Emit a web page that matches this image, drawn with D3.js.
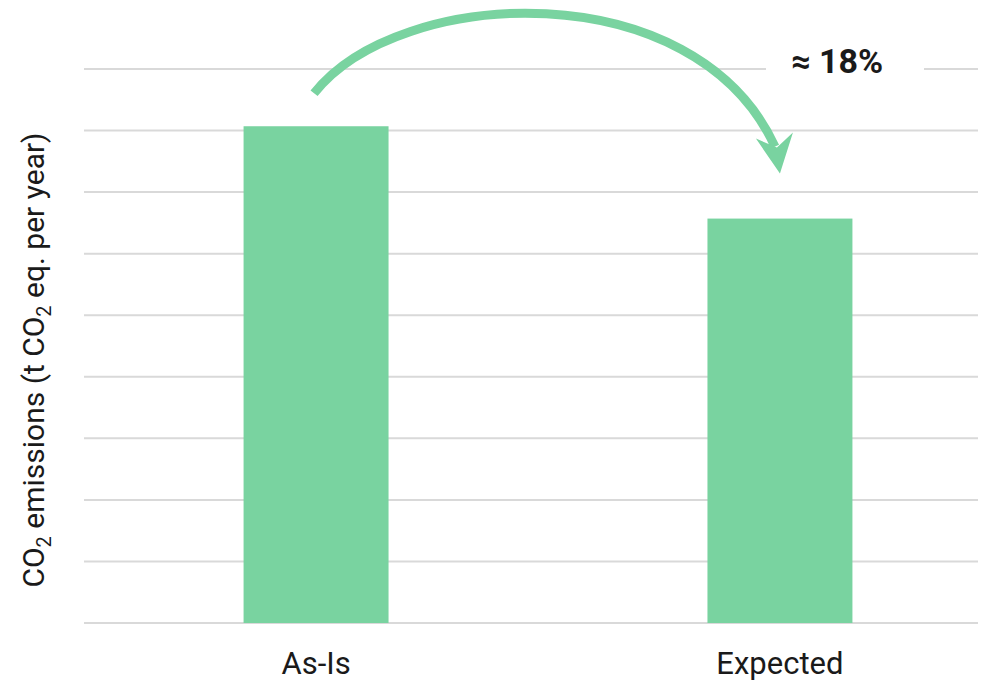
<!DOCTYPE html>
<meta charset="utf-8">
<script src="https://d3js.org/d3.v7.min.js"></script>
<style>
  body { margin: 0; background: #fff; }
  text { font-family: Roboto, "Noto Sans", sans-serif; fill: #1a1a1a; }
</style>
<div id="my_dataviz"></div>
<script>

// data
var categories = ["As-Is", "Expected"];
var values = [8.07, 6.57];
var gridTicks = [0, 1, 2, 3, 4, 5, 6, 7, 8, 9];
var changeLabel = "≈ 18%";

var width = 997, height = 682;
var margin = {left: 84, right: 978, top: 69, bottom: 623};
var barColor = "#79d3a0";

var svg = d3.select("#my_dataviz")
  .append("svg")
    .attr("width", width)
    .attr("height", height);

var x = d3.scaleBand()
  .domain(categories)
  .range([margin.left, 1012])
  .paddingInner(0.6875)
  .paddingOuter(0.344);

var y = d3.scaleLinear()
  .domain([0, 9])
  .range([margin.bottom, margin.top]);

// horizontal grid lines
svg.append("g")
  .selectAll("line")
  .data(gridTicks)
  .join("line")
    .attr("x1", margin.left)
    .attr("x2", margin.right)
    .attr("y1", function(d) { return y(d); })
    .attr("y2", function(d) { return y(d); })
    .attr("stroke", "#d9d9d9")
    .attr("stroke-width", 2);

// bars
svg.append("g")
  .selectAll("rect")
  .data(values)
  .join("rect")
    .attr("x", function(d, i) { return x(categories[i]); })
    .attr("y", function(d) { return y(d); })
    .attr("width", x.bandwidth())
    .attr("height", function(d) { return y(0) - y(d); })
    .attr("fill", barColor);

// category labels
svg.append("g")
  .selectAll("text")
  .data(categories)
  .join("text")
    .attr("x", function(d) { return x(d) + x.bandwidth() / 2; })
    .attr("y", 674)
    .attr("text-anchor", "middle")
    .style("font-size", "31px")
    .text(function(d) { return d; });

// y axis title with subscripts
var yt = svg.append("text")
  .attr("transform", "translate(44," + ((margin.top + margin.bottom) / 2 + 14) + ") rotate(-90)")
  .attr("text-anchor", "middle")
  .style("font-size", "30px");
yt.append("tspan").text("CO");
yt.append("tspan").attr("dy", 7).style("font-size", "20px").text("2");
yt.append("tspan").attr("dy", -7).text(" emissions (t CO");
yt.append("tspan").attr("dy", 7).style("font-size", "20px").text("2");
yt.append("tspan").attr("dy", -7).text(" eq. per year)");

// curved arrow from As-Is to Expected
var x0 = x("As-Is") + x.bandwidth() / 2,
    x1 = x("Expected") + x.bandwidth() / 2;
var sx = x0 - 2, sy = y(values[0]) - 33;
var ex = x1 - 5, ey = y(values[1]) - 72;
var p = d3.path();
p.moveTo(sx, sy);
p.bezierCurveTo(sx + 85, sy - 108, ex - 80, ey - 175, ex, ey);
svg.append("path")
  .attr("d", p.toString())
  .attr("fill", "none")
  .attr("stroke", barColor)
  .attr("stroke-width", 9);

// arrow head
var tipX = x1, tipY = y(values[1]) - 45;
svg.append("path")
  .attr("d", d3.line()([[tipX - 24, tipY - 35], [tipX, tipY], [tipX + 13, tipY - 41], [tipX - 3, tipY - 26]]))
  .attr("fill", barColor);

// percentage label on a white box
svg.append("rect")
  .attr("x", 766)
  .attr("y", y(9) - 22)
  .attr("width", 158)
  .attr("height", 44)
  .attr("fill", "#fff");
svg.append("text")
  .attr("x", 837)
  .attr("y", y(9) + 4)
  .attr("text-anchor", "middle")
  .style("font-size", "34px")
  .style("font-weight", "bold")
  .text(changeLabel);

</script>
